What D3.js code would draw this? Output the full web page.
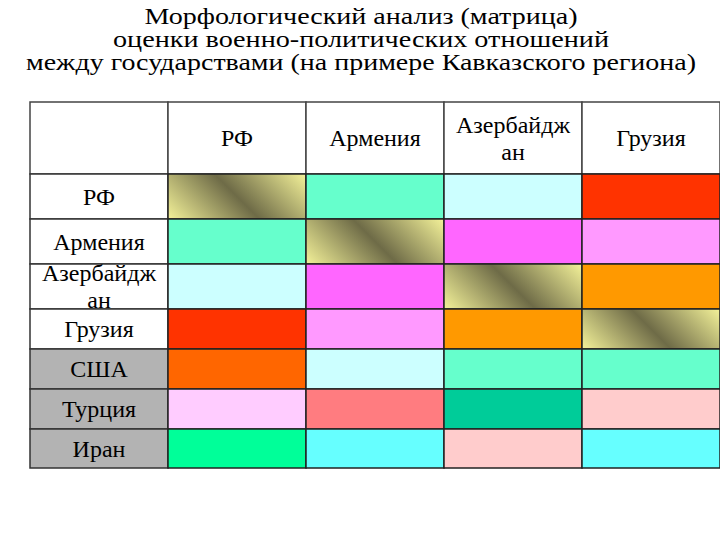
<!DOCTYPE html>
<html>
<head>
<meta charset="utf-8">
<script src="https://cdn.jsdelivr.net/npm/d3@7"></script>
<style>
  html, body { margin: 0; padding: 0; background: #fff; }
  svg { display: block; }
  svg text { font-family: "Liberation Serif", "Times New Roman", serif; }
</style>
</head>
<body>
<div id="chart"></div>
<script>
// ---- data ----
const titleLines = [
  "Морфологический анализ (матрица)",
  "оценки  военно-политических отношений",
  "между государствами (на примере Кавказского региона)"
];
const columns = ["РФ", "Армения", "Азербайджан", "Грузия"];
const rows = ["РФ", "Армения", "Азербайджан", "Грузия", "США", "Турция", "Иран"];
// relation codes per cell (row x column)
const relations = [
  ["self", "B", "C", "D"],
  ["B", "self", "E", "F"],
  ["C", "E", "self", "G"],
  ["D", "F", "G", "self"],
  ["H", "C", "B", "B"],
  ["I", "J", "K", "L"],
  ["M", "N", "L", "N"]
];
const relationCodes = ["B", "C", "D", "E", "F", "G", "H", "I", "J", "K", "L", "M", "N"];
const externalRows = ["США", "Турция", "Иран"];

// ---- layout ----
const W = 720, H = 540;
const svg = d3.select("#chart").append("svg").attr("width", W).attr("height", H);

const palette = d3.scaleOrdinal()
  .domain(relationCodes)
  .range(["#66ffcc", "#ccffff", "#ff3300", "#ff66ff", "#ff99ff", "#ff9900",
          "#ff6600", "#ffccff", "#ff7c80", "#00cc99", "#ffcccc", "#00ff99", "#66ffff"]);

const defs = svg.append("defs");

// title
const titleSizes = [433, 496, 670];
svg.append("g").selectAll("text").data(titleLines).join("text")
  .attr("x", 361).attr("y", (d, i) => 24 + i * 23)
  .attr("text-anchor", "middle")
  .style("font-size", "24px")
  .attr("fill", "#000")
  .attr("textLength", (d, i) => titleSizes[i])
  .attr("lengthAdjust", "spacingAndGlyphs")
  .text(d => d);

// scales
const allCols = ["__label", ...columns];
const x = d3.scaleBand().domain(d3.range(allCols.length)).range([30, 720]);
const rowEdges = [102, 174, 219, 264, 309, 349, 389, 429, 468];
const y = d3.scaleOrdinal().domain(d3.range(rowEdges.length - 1)).range(rowEdges.slice(0, -1));
const rh = i => rowEdges[i + 1] - rowEdges[i];

const g = svg.append("g");

// header row
const header = allCols.map((c, j) => ({ r: 0, c: j, label: c === "__label" ? "" : c }));
g.selectAll("rect.hdr").data(header).join("rect").attr("class", "hdr")
  .attr("x", d => x(d.c)).attr("y", y(0))
  .attr("width", x.bandwidth()).attr("height", rh(0))
  .attr("fill", "#fff").attr("stroke", "#444").attr("stroke-width", 1.5);

function wrapLabel(s) {
  return s === "Азербайджан" ? ["Азербайдж", "ан"] : [s];
}
function drawLabel(sel, cx, cy, s) {
  const lines = wrapLabel(s);
  const lh = 27;
  lines.forEach((ln, k) => {
    sel.append("text").attr("text-anchor", "middle")
      .style("font-size", "24px").attr("fill", "#000")
      .attr("x", cx)
      .attr("y", cy + (k - (lines.length - 1) / 2) * lh)
      .attr("dy", "0.35em").text(ln);
  });
}
header.forEach(d => { if (d.label) drawLabel(g, x(d.c) + x.bandwidth() / 2, y(0) + rh(0) / 2, d.label); });

// body rows
let gradId = 0;
rows.forEach((rname, i) => {
  const ri = i + 1;
  g.append("rect")
    .attr("x", x(0)).attr("y", y(ri)).attr("width", x.bandwidth()).attr("height", rh(ri))
    .attr("fill", externalRows.includes(rname) ? "#b3b3b3" : "#fff")
    .attr("stroke", "#333").attr("stroke-width", 1.5);
  const cells = relations[i].map((code, j) => ({ code, j }));
  cells.forEach(d => {
    if (d.code === "self") {
      const cx = x(d.j + 1) + x.bandwidth() / 2, cy = y(ri) + rh(ri) / 2;
      const L = (x.bandwidth() / 2 + rh(ri) / 2) / 2;
      const id = "selfGrad" + (gradId++);
      const gr = defs.append("linearGradient").attr("id", id)
        .attr("gradientUnits", "userSpaceOnUse")
        .attr("x1", cx - L).attr("y1", cy + L).attr("x2", cx + L).attr("y2", cy - L);
      [[0, "#f4f299"], [0.5, "#6e6b47"], [1, "#f4f299"]].forEach(([o, c]) =>
        gr.append("stop").attr("offset", o).attr("stop-color", c));
      d.fill = `url(#${id})`;
    } else {
      d.fill = palette(d.code);
    }
  });
  g.selectAll(null).data(cells).join("rect")
    .attr("x", d => x(d.j + 1)).attr("y", y(ri))
    .attr("width", x.bandwidth()).attr("height", rh(ri))
    .attr("fill", d => d.fill)
    .attr("stroke", "#222").attr("stroke-width", 1.5);
});
rows.forEach((rname, i) => {
  const ri = i + 1;
  drawLabel(g, x(0) + x.bandwidth() / 2, y(ri) + rh(ri) / 2, rname);
});
</script>
</body>
</html>
